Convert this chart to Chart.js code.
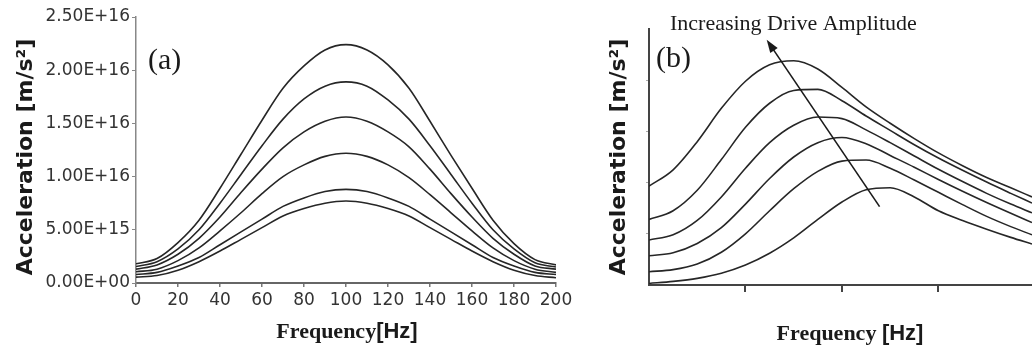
<!DOCTYPE html>
<html>
<head>
<meta charset="utf-8">
<script src="https://cdn.jsdelivr.net/npm/chart.js@4.4.0/dist/chart.umd.min.js"></script>
<style>
  html, body { margin: 0; padding: 0; background: #fff; }
  #wrap { position: relative; width: 1032px; height: 350px; overflow: hidden; }
  #wrap canvas { position: absolute; top: 0; }
  #chartA { left: 0; }
  #chartB { left: 580px; }
</style>
</head>
<body>
<div id="wrap">
  <canvas id="chartA" width="580" height="350"></canvas>
  <canvas id="chartB" width="452" height="350"></canvas>
</div>
<script>
// panel (a): frequency in Hz, acceleration in units of 1E+16 m/s^2
const freqA = [0, 10, 20, 30, 40, 50, 60, 70, 80, 90, 100, 110, 120, 130, 140, 150, 160, 170, 180, 190, 200];
const accA1 = [0.18, 0.23, 0.38, 0.59, 0.89, 1.21, 1.53, 1.83, 2.04, 2.19, 2.24, 2.19, 2.05, 1.83, 1.52, 1.20, 0.89, 0.59, 0.37, 0.22, 0.17];
const accA2 = [0.155, 0.20, 0.32, 0.50, 0.75, 1.02, 1.29, 1.54, 1.73, 1.85, 1.89, 1.85, 1.72, 1.54, 1.29, 1.02, 0.75, 0.50, 0.32, 0.19, 0.15];
const accA3 = [0.13, 0.17, 0.27, 0.42, 0.62, 0.85, 1.07, 1.27, 1.42, 1.52, 1.56, 1.52, 1.42, 1.28, 1.07, 0.84, 0.62, 0.42, 0.27, 0.16, 0.13];
const accA4 = [0.105, 0.13, 0.21, 0.33, 0.49, 0.66, 0.84, 1.00, 1.11, 1.19, 1.22, 1.19, 1.11, 0.99, 0.83, 0.66, 0.49, 0.33, 0.21, 0.13, 0.10];
const accA5 = [0.08, 0.10, 0.16, 0.24, 0.36, 0.48, 0.60, 0.72, 0.80, 0.86, 0.88, 0.86, 0.80, 0.72, 0.60, 0.48, 0.36, 0.24, 0.16, 0.10, 0.08];
const accA6 = [0.055, 0.07, 0.12, 0.20, 0.30, 0.41, 0.52, 0.63, 0.70, 0.75, 0.77, 0.75, 0.70, 0.63, 0.52, 0.41, 0.30, 0.20, 0.12, 0.07, 0.05];
const yTicksA = [0, 0.5, 1.0, 1.5, 2.0, 2.5];

// panel (b): arbitrary units, no tick labels in the original
const freqB = [0, 0.25, 0.5, 0.75, 1.0, 1.25, 1.5, 1.75, 2.0, 2.25, 2.5, 2.75, 3.0, 3.25, 3.5, 3.75, 3.97];
const accB1 = [1.93, 2.25, 2.80, 3.45, 3.98, 4.30, 4.38, 4.22, 3.86, 3.48, 3.16, 2.86, 2.58, 2.33, 2.10, 1.90, 1.72];
const accB2 = [1.28, 1.45, 1.85, 2.45, 3.08, 3.55, 3.80, 3.82, 3.60, 3.30, 3.02, 2.74, 2.48, 2.24, 2.01, 1.79, 1.60];
const accB3 = [0.88, 0.98, 1.26, 1.72, 2.28, 2.78, 3.12, 3.28, 3.25, 3.03, 2.78, 2.52, 2.26, 2.02, 1.79, 1.58, 1.41];
const accB4 = [0.57, 0.63, 0.81, 1.12, 1.58, 2.08, 2.50, 2.78, 2.88, 2.76, 2.53, 2.30, 2.06, 1.83, 1.61, 1.40, 1.22];
const accB5 = [0.26, 0.30, 0.41, 0.64, 1.00, 1.45, 1.88, 2.22, 2.42, 2.44, 2.28, 2.05, 1.81, 1.57, 1.34, 1.14, 0.98];
const accB6 = [0.03, 0.07, 0.13, 0.23, 0.39, 0.62, 0.92, 1.28, 1.62, 1.86, 1.90, 1.72, 1.45, 1.26, 1.09, 0.93, 0.80];
const arrowB = { from: { x: 2.39, y: 1.53 }, to: { x: 1.22, y: 4.79 } };

const SCALE_A = 1e16;
const lineColor = '#262626';

function sci(v) {
    if (v === 0) return '0.00E+00';
    const e = Math.floor(Math.log10(v) + 1e-9);
    const m = v / Math.pow(10, e);
    return m.toFixed(2) + 'E+' + String(e).padStart(2, '0');
}

function series(xs, ys, k) {
    return xs.map((x, i) => ({ x: x, y: ys[i] * k }));
}

function lineSet(xs, ys, k) {
    return {
        data: series(xs, ys, k),
        borderColor: lineColor,
        borderWidth: 1.6,
        pointRadius: 0,
        fill: false,
        cubicInterpolationMode: 'monotone'
    };
}

// draws free text (titles, panel letters) in canvas pixels
function textPlugin(items) {
    return {
        id: 'texts',
        afterDraw(chart) {
            const ctx = chart.ctx;
            items.forEach(t => {
                ctx.save();
                ctx.fillStyle = t.color || '#1a1a1a';
                ctx.textBaseline = t.baseline || 'alphabetic';
                ctx.translate(t.x, t.y);
                if (t.rotate) ctx.rotate(t.rotate);
                const parts = t.parts || [{ text: t.text, font: t.font }];
                let total = 0;
                parts.forEach(p => { ctx.font = p.font; total += ctx.measureText(p.text).width; });
                let x = t.align === 'center' ? -total / 2 : 0;
                ctx.textAlign = 'left';
                parts.forEach(p => {
                    ctx.font = p.font;
                    ctx.fillText(p.text, x, 0);
                    x += ctx.measureText(p.text).width;
                });
                ctx.restore();
            });
        }
    };
}

const arrowPlugin = {
    id: 'arrow',
    afterDatasetsDraw(chart) {
        const { ctx, scales } = chart;
        const x1 = scales.x.getPixelForValue(arrowB.from.x), y1 = scales.y.getPixelForValue(arrowB.from.y);
        const x2 = scales.x.getPixelForValue(arrowB.to.x), y2 = scales.y.getPixelForValue(arrowB.to.y);
        const ang = Math.atan2(y2 - y1, x2 - x1);
        const len = 13, half = 4.5;
        ctx.save();
        ctx.strokeStyle = '#1a1a1a';
        ctx.fillStyle = '#1a1a1a';
        ctx.lineWidth = 1.6;
        ctx.beginPath();
        ctx.moveTo(x1, y1);
        ctx.lineTo(x2 - Math.cos(ang) * len * 0.8, y2 - Math.sin(ang) * len * 0.8);
        ctx.stroke();
        ctx.beginPath();
        ctx.moveTo(x2, y2);
        ctx.lineTo(x2 - Math.cos(ang) * len - Math.sin(ang) * half, y2 - Math.sin(ang) * len + Math.cos(ang) * half);
        ctx.lineTo(x2 - Math.cos(ang) * len + Math.sin(ang) * half, y2 - Math.sin(ang) * len - Math.cos(ang) * half);
        ctx.closePath();
        ctx.fill();
        ctx.restore();
    }
};

const tickFont = { family: 'DejaVu Sans', size: 17 };
const yTitleFont = 'bold 22px "DejaVu Sans"';
const serifBold = 'bold 22px "Liberation Serif"';
const sansBold = 'bold 22px "Liberation Sans"';

Chart.defaults.animation = false;

new Chart(document.getElementById('chartA'), {
    type: 'line',
    data: {
        datasets: [accA1, accA2, accA3, accA4, accA5, accA6].map(a => lineSet(freqA, a, SCALE_A))
    },
    options: {
        responsive: false,
        layout: { padding: { top: 17, right: 24, left: 0, bottom: 0 } },
        plugins: { legend: { display: false }, tooltip: { enabled: false } },
        scales: {
            x: {
                type: 'linear',
                min: 0,
                max: 200,
                ticks: { stepSize: 20, font: tickFont, color: '#333', padding: 3, maxRotation: 0 },
                grid: { drawOnChartArea: false, drawTicks: true, tickLength: 4, color: '#777', lineWidth: 1.5 },
                border: { color: '#666', width: 2 },
                afterFit: s => { s.height = 67; }
            },
            y: {
                min: 0,
                max: 2.5 * SCALE_A,
                afterBuildTicks: s => { s.ticks = yTicksA.map(v => ({ value: v * SCALE_A })); },
                ticks: { font: tickFont, color: '#333', padding: 2, callback: v => sci(v) },
                grid: { drawOnChartArea: false, drawTicks: true, tickLength: 4, color: '#888', lineWidth: 1 },
                border: { color: '#888', width: 1.5 },
                afterFit: s => { s.width = 136; }
            }
        }
    },
    plugins: [textPlugin([
        { text: 'Acceleration [m/s\u00b2]', font: yTitleFont, x: 26, y: 157, rotate: -Math.PI / 2, align: 'center', baseline: 'middle' },
        { parts: [{ text: 'Frequency', font: serifBold }, { text: '[Hz]', font: sansBold }], x: 347, y: 338, align: 'center' },
        { text: '(a)', font: '30px "Liberation Serif"', x: 148, y: 69 }
    ])]
});

new Chart(document.getElementById('chartB'), {
    type: 'line',
    data: {
        datasets: [accB1, accB2, accB3, accB4, accB5, accB6].map(a => lineSet(freqB, a, 1))
    },
    options: {
        responsive: false,
        layout: { padding: { top: 29, right: 0, left: 0, bottom: 0 } },
        plugins: { legend: { display: false }, tooltip: { enabled: false } },
        scales: {
            x: {
                type: 'linear',
                min: 0,
                max: 3.97,
                afterBuildTicks: s => { s.ticks = [1, 2, 3].map(v => ({ value: v })); },
                ticks: { display: false },
                grid: { drawOnChartArea: false, drawTicks: true, tickLength: 7, color: '#444', lineWidth: 2 },
                border: { color: '#444', width: 2 },
                afterFit: s => { s.height = 65; }
            },
            y: {
                min: 0,
                max: 5,
                afterBuildTicks: s => { s.ticks = [1, 2, 3, 4].map(v => ({ value: v })); },
                ticks: { display: false },
                grid: { drawOnChartArea: false, drawTicks: true, tickLength: 3, color: '#aaa', lineWidth: 1 },
                border: { color: '#444', width: 2 },
                afterFit: s => { s.width = 69; }
            }
        }
    },
    plugins: [arrowPlugin, textPlugin([
        { text: 'Acceleration [m/s\u00b2]', font: yTitleFont, x: 39, y: 157, rotate: -Math.PI / 2, align: 'center', baseline: 'middle' },
        { parts: [{ text: 'Frequency ', font: serifBold }, { text: '[Hz]', font: sansBold }], x: 270, y: 340, align: 'center' },
        { text: '(b)', font: '30px "Liberation Serif"', x: 76, y: 67 },
        { text: 'Increasing Drive Amplitude', font: '22px "Liberation Serif"', x: 90, y: 30 }
    ])]
});
</script>
</body>
</html>
